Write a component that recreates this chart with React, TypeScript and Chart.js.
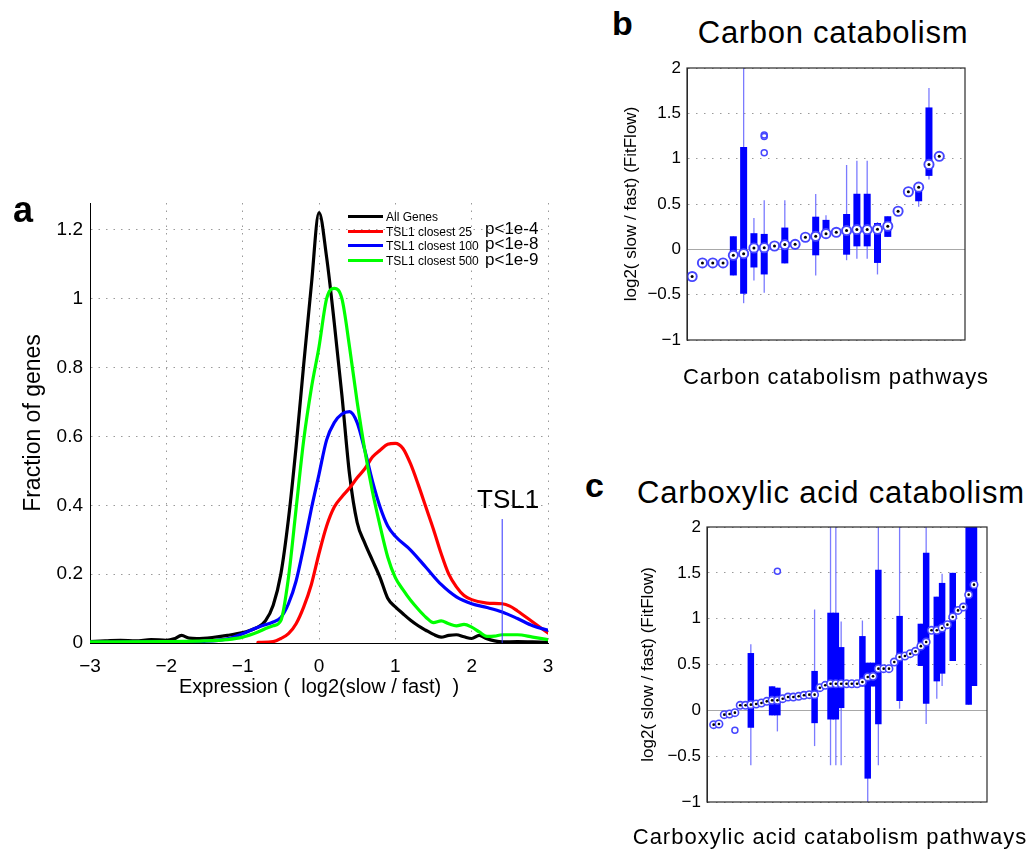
import React, { useEffect, useRef } from "react";
import { Chart, registerables } from "chart.js";

Chart.register(...registerables);

const FONT = '"Liberation Sans", Arial, Helvetica, sans-serif';

// ---------------- Panel a : distributions of expression ----------------
const allGenesX = [-3, -2.8, -2.6, -2.4, -2.2, -2.0, -1.9, -1.8, -1.7, -1.6, -1.4, -1.2, -1.0, -0.9, -0.8, -0.7, -0.6, -0.5, -0.4, -0.3, -0.2, -0.1, 0, 0.1, 0.2, 0.3, 0.4, 0.5, 0.6, 0.7, 0.8, 0.9, 1.0, 1.1, 1.2, 1.3, 1.4, 1.5, 1.6, 1.7, 1.8, 1.9, 2.0, 2.1, 2.2, 2.3, 2.4, 2.6, 2.8, 3.0];
const allGenesY = [0.004, 0.006, 0.008, 0.006, 0.01, 0.008, 0.012, 0.022, 0.014, 0.013, 0.016, 0.022, 0.03, 0.037, 0.046, 0.065, 0.11, 0.2, 0.36, 0.57, 0.81, 1.04, 1.25, 1.12, 0.93, 0.72, 0.49, 0.35, 0.29, 0.24, 0.19, 0.13, 0.105, 0.085, 0.066, 0.05, 0.037, 0.025, 0.017, 0.022, 0.024, 0.018, 0.013, 0.022, 0.012, 0.006, 0.003, 0.004, 0.003, 0.002];

const closest25X = [-0.8, -0.6, -0.5, -0.4, -0.3, -0.2, -0.1, 0, 0.1, 0.2, 0.3, 0.4, 0.5, 0.6, 0.7, 0.8, 0.9, 1.0, 1.1, 1.2, 1.3, 1.4, 1.5, 1.6, 1.7, 1.8, 1.9, 2.0, 2.2, 2.4, 2.5, 2.6, 2.8, 3.0];
const closest25Y = [0.002, 0.004, 0.013, 0.027, 0.056, 0.105, 0.17, 0.26, 0.34, 0.395, 0.425, 0.45, 0.48, 0.506, 0.54, 0.56, 0.577, 0.58, 0.565, 0.52, 0.46, 0.395, 0.33, 0.26, 0.2, 0.163, 0.138, 0.126, 0.116, 0.114, 0.107, 0.093, 0.061, 0.029];

const closest100X = [-3, -2, -1.5, -1.2, -1.0, -0.8, -0.6, -0.5, -0.4, -0.3, -0.2, -0.1, 0, 0.1, 0.2, 0.3, 0.4, 0.5, 0.6, 0.7, 0.8, 0.9, 1.0, 1.2, 1.4, 1.6, 1.8, 2.0, 2.2, 2.4, 2.6, 2.8, 3.0];
const closest100Y = [0.002, 0.003, 0.005, 0.012, 0.027, 0.046, 0.061, 0.074, 0.114, 0.18, 0.28, 0.39, 0.49, 0.59, 0.64, 0.665, 0.672, 0.64, 0.56, 0.47, 0.395, 0.34, 0.31, 0.27, 0.22, 0.17, 0.134, 0.114, 0.103, 0.09, 0.071, 0.05, 0.037];

const closest500X = [-3, -2, -1.5, -1.2, -1.0, -0.8, -0.7, -0.6, -0.5, -0.4, -0.3, -0.2, -0.1, 0, 0.1, 0.2, 0.3, 0.4, 0.5, 0.6, 0.7, 0.8, 0.9, 1.0, 1.1, 1.2, 1.3, 1.4, 1.5, 1.6, 1.7, 1.8, 1.9, 2.0, 2.1, 2.2, 2.3, 2.4, 2.6, 2.8, 3.0];
const closest500Y = [0.003, 0.004, 0.006, 0.01, 0.017, 0.032, 0.042, 0.05, 0.065, 0.19, 0.39, 0.59, 0.74, 0.86, 1.0, 1.03, 1.0, 0.86, 0.7, 0.56, 0.44, 0.34, 0.25, 0.19, 0.155, 0.124, 0.098, 0.075, 0.059, 0.064, 0.056, 0.05, 0.054, 0.046, 0.032, 0.019, 0.02, 0.024, 0.024, 0.017, 0.01];

const seriesLabels = ["All Genes", "TSL1 closest 25", "TSL1 closest 100", "TSL1 closest 500"];
const seriesColors = ["#000000", "#ff0000", "#0000ff", "#00ff00"];
const pValueLabels = ["", "p<1e-4", "p<1e-8", "p<1e-9"];
const tsl1Position = 2.4;
const tsl1MarkerHeight = 0.36;

// ---------------- Panel b : Carbon catabolism ----------------
const carbonMedians = [-0.30, -0.15, -0.15, -0.15, -0.066, -0.048, 0.015, 0.018, 0.037, 0.052, 0.055, 0.133, 0.144, 0.173, 0.188, 0.207, 0.218, 0.218, 0.221, 0.255, 0.42, 0.635, 0.686, 0.937, 1.026];
const carbonBoxItems = [5, 6, 7, 8, 10, 13, 14, 16, 17, 18, 19, 20, 23, 24];
const carbonQ1 = [-0.288, -0.49, -0.2, -0.277, -0.155, -0.066, 0.173, -0.059, 0.033, 0.033, -0.15, 0.137, 0.53, 0.81];
const carbonQ3 = [0.144, 1.13, 0.178, 0.17, 0.24, 0.36, 0.325, 0.39, 0.613, 0.613, 0.29, 0.365, 0.686, 1.565];
const carbonWhiskerLo = [-0.288, -0.594, -0.345, -0.48, -0.155, -0.288, 0.173, -0.12, -0.103, -0.103, -0.277, 0.137, 0.47, 0.77];
const carbonWhiskerHi = [0.144, 2.05, 0.345, 0.54, 0.54, 0.61, 0.376, 0.93, 0.978, 0.978, 0.30, 0.365, 0.686, 1.78];
const carbonOutlierItems = [8, 8, 8];
const carbonOutlierValues = [1.26, 1.245, 1.066];

// ---------------- Panel c : Carboxylic acid catabolism ----------------
const acidMedians = [-0.156, -0.149, -0.047, -0.04, -0.025, 0.055, 0.055, 0.062, 0.069, 0.08, 0.098, 0.109, 0.109, 0.127, 0.145, 0.145, 0.153, 0.164, 0.171, 0.171, 0.247, 0.273, 0.29, 0.29, 0.29, 0.29, 0.29, 0.29, 0.309, 0.364, 0.371, 0.455, 0.455, 0.455, 0.527, 0.582, 0.593, 0.618, 0.644, 0.70, 0.745, 0.873, 0.873, 0.898, 0.935, 1.018, 1.09, 1.127, 1.262, 1.371];
const acidBoxItems = [8, 12, 13, 20, 23, 24, 25, 29, 30, 31, 32, 36, 40, 41, 43, 44, 46, 49, 50];
const acidQ1 = [-0.19, -0.055, -0.055, -0.14, -0.1, -0.1, 0.025, 0.26, -0.745, 0.26, -0.153, 0.102, 0.484, 0.073, 0.316, 0.40, 0.538, 0.062, 0.265];
const acidQ3 = [0.625, 0.262, 0.247, 0.43, 1.065, 1.065, 0.69, 0.81, 0.52, 0.52, 1.535, 1.03, 0.945, 1.72, 1.24, 1.39, 1.5, 2.3, 2.3];
const acidWhiskerLo = [-0.6, -0.055, -0.23, -0.39, -0.6, -0.6, -0.6, 0.26, -1.05, 0.26, -0.6, 0.018, 0.484, -0.15, 0.127, 0.265, 0.538, 0.062, 0.265];
const acidWhiskerHi = [0.72, 0.262, 0.247, 1.1, 2.3, 2.3, 0.97, 0.98, 0.52, 0.52, 2.3, 2.3, 0.945, 2.3, 1.24, 1.49, 1.5, 2.3, 2.3];
const acidOutlierItems = [5, 13];
const acidOutlierValues = [-0.218, 1.516];

// ---------------- helpers ----------------
const xyPoints = (xs: number[], ys: number[]) => xs.map((x, i) => ({ x, y: ys[i] }));
const itemPoints = (vals: number[]) => vals.map((v, i) => ({ x: i + 1, y: v }));
const floatPoints = (items: number[], lo: number[], hi: number[]) =>
  items.map((k, i) => ({ x: k, y: [lo[i], hi[i]] }));

const fmt = (v: any) => {
  const r = Math.round(Number(v) * 100) / 100;
  return (r < 0 ? "\u2212" : "") + String(Math.abs(r));
};

const framePlugin = {
  id: "frame",
  afterDraw(chart: any) {
    const { ctx, chartArea } = chart;
    const { left, top, right, bottom } = chartArea;
    ctx.save();
    ctx.strokeStyle = "#2a2a2a";
    ctx.lineWidth = 1.2;
    ctx.strokeRect(left, top, right - left, bottom - top);
    ctx.restore();
  },
};

function buildPanelA() {
  const line = (label: string, color: string, xs: number[], ys: number[]) => ({
    label,
    data: xyPoints(xs, ys),
    showLine: true,
    borderColor: color,
    backgroundColor: color,
    borderWidth: 3.2,
    pointRadius: 0,
    cubicInterpolationMode: "monotone",
    borderCapStyle: "round",
    borderJoinStyle: "round",
  });
  return {
    type: "scatter",
    data: {
      datasets: [
        {
          label: "TSL1",
          data: [
            { x: tsl1Position, y: 0 },
            { x: tsl1Position, y: tsl1MarkerHeight },
          ],
          showLine: true,
          borderColor: "#3030ff",
          borderWidth: 1,
          pointRadius: 0,
        },
        line(seriesLabels[3], seriesColors[3], closest500X, closest500Y),
        line(seriesLabels[2], seriesColors[2], closest100X, closest100Y),
        line(seriesLabels[1], seriesColors[1], closest25X, closest25Y),
        line(seriesLabels[0], seriesColors[0], allGenesX, allGenesY),
      ],
    },
    options: {
      animation: false,
      responsive: false,
      events: [],
      layout: { padding: { left: 0, right: 22, top: 13, bottom: 0 } },
      plugins: { legend: { display: false }, tooltip: { enabled: false } },
      scales: {
        x: {
          type: "linear",
          min: -3,
          max: 3,
          ticks: {
            stepSize: 1,
            font: { family: FONT, size: 19 },
            color: "#000",
            padding: 12,
            maxRotation: 0,
            callback: fmt,
          },
          grid: { color: "#9a9a9a", drawTicks: false, lineWidth: 1 },
          border: { display: true, color: "#000", width: 1, dash: [1.5, 6] },
          title: {
            display: true,
            text: "Expression (  log2(slow / fast)  )",
            font: { family: FONT, size: 20 },
            color: "#000",
            padding: { top: 0, bottom: 11 },
          },
          afterFit(s: any) {
            s.height = 67;
            s.paddingLeft = 0;
            s.paddingRight = 0;
          },
        },
        y: {
          type: "linear",
          min: 0,
          max: 1.278,
          ticks: {
            stepSize: 0.2,
            includeBounds: false,
            font: { family: FONT, size: 19 },
            color: "#000",
            padding: 7,
            callback: fmt,
          },
          grid: { color: "#9a9a9a", drawTicks: false, lineWidth: 1 },
          border: { display: true, color: "#000", width: 1, dash: [1.5, 6] },
          title: {
            display: true,
            text: "Fraction of genes",
            font: { family: FONT, size: 23 },
            color: "#000",
            padding: { top: 20, bottom: 0 },
          },
          afterFit(s: any) {
            s.width = 90;
            s.paddingTop = 0;
            s.paddingBottom = 0;
          },
        },
      },
    },
  };
}

function buildBoxPanel(p: {
  medians: number[];
  boxItems: number[];
  q1: number[];
  q3: number[];
  wLo: number[];
  wHi: number[];
  outItems: number[];
  outVals: number[];
  xMin: number;
  xMax: number;
  ringR: number;
  ringW: number;
  dotR: number;
  outR: number;
  boxW: number;
  yAxisWidth: number;
  yTitlePad: number;
  padding: any;
}) {
  return {
    type: "bar",
    data: {
      datasets: [
        {
          type: "scatter",
          label: "median dot",
          data: itemPoints(p.medians),
          pointRadius: p.dotR,
          pointBackgroundColor: "#000",
          pointBorderWidth: 0,
          order: 0,
        },
        {
          type: "scatter",
          label: "median",
          data: itemPoints(p.medians),
          pointRadius: p.ringR,
          pointBackgroundColor: "#ffffff",
          pointBorderColor: "#4646ff",
          pointBorderWidth: p.ringW,
          order: 1,
        },
        {
          type: "scatter",
          label: "outliers",
          data: xyPoints(p.outItems, p.outVals),
          pointRadius: p.outR,
          pointBackgroundColor: "rgba(255,255,255,0)",
          pointBorderColor: "#4646ff",
          pointBorderWidth: 1.5,
          order: 2,
        },
        {
          type: "bar",
          label: "box",
          data: floatPoints(p.boxItems, p.q1, p.q3),
          backgroundColor: "#0000ff",
          borderWidth: 0,
          inflateAmount: 0,
          grouped: false,
          categoryPercentage: 1,
          barPercentage: 1.25,
          maxBarThickness: p.boxW,
          order: 3,
        },
        {
          type: "bar",
          label: "whisker",
          data: floatPoints(p.boxItems, p.wLo, p.wHi),
          backgroundColor: "rgba(100,100,255,0.85)",
          borderWidth: 0,
          inflateAmount: 0,
          grouped: false,
          categoryPercentage: 1,
          barPercentage: 1,
          maxBarThickness: 1.3,
          order: 4,
        },
      ],
    },
    plugins: [framePlugin],
    options: {
      animation: false,
      responsive: false,
      events: [],
      layout: { padding: p.padding },
      plugins: { legend: { display: false }, tooltip: { enabled: false } },
      scales: {
        x: { type: "linear", min: p.xMin, max: p.xMax, offset: false, display: false },
        y: {
          type: "linear",
          min: -1,
          max: 2,
          ticks: {
            stepSize: 0.5,
            font: { family: FONT, size: 17 },
            color: "#000",
            padding: 6,
            callback: fmt,
          },
          grid: {
            drawTicks: false,
            lineWidth: 1,
            color: (c: any) => (c.tick && c.tick.value === 0 ? "#a8a8a8" : "#9a9a9a"),
          },
          border: {
            display: true,
            color: "#2a2a2a",
            width: 1,
            dash: (c: any) => (c.tick && c.tick.value === 0 ? [] : [1.5, 6.5]),
          },
          title: {
            display: true,
            text: "log2( slow / fast) (FitFlow)",
            font: { family: FONT, size: 17 },
            color: "#000",
            padding: { top: p.yTitlePad, bottom: 0 },
          },
          afterFit(s: any) {
            s.width = p.yAxisWidth;
            s.paddingTop = 0;
            s.paddingBottom = 0;
          },
        },
      },
    },
  };
}

function buildPanelB() {
  return buildBoxPanel({
    medians: carbonMedians,
    boxItems: carbonBoxItems,
    q1: carbonQ1,
    q3: carbonQ3,
    wLo: carbonWhiskerLo,
    wHi: carbonWhiskerHi,
    outItems: carbonOutlierItems,
    outVals: carbonOutlierValues,
    xMin: 0.5,
    xMax: 27.5,
    ringR: 4.6,
    ringW: 1.9,
    dotR: 1.5,
    outR: 3,
    boxW: 7,
    yAxisWidth: 87,
    yTitlePad: 21,
    padding: { left: 0, right: 55, top: 18, bottom: 55 },
  });
}

function buildPanelC() {
  return buildBoxPanel({
    medians: acidMedians,
    boxItems: acidBoxItems,
    q1: acidQ1,
    q3: acidQ3,
    wLo: acidWhiskerLo,
    wHi: acidWhiskerHi,
    outItems: acidOutlierItems,
    outVals: acidOutlierValues,
    xMin: -0.25,
    xMax: 52.45,
    ringR: 3.7,
    ringW: 1.6,
    dotR: 1.3,
    outR: 3,
    boxW: 6.5,
    yAxisWidth: 107,
    yTitlePad: 38,
    padding: { left: 0, right: 33, top: 17, bottom: 50 },
  });
}

function ChartBox(props: { left: number; top: number; width: number; height: number; build: () => any }) {
  const ref = useRef<HTMLCanvasElement>(null);
  useEffect(() => {
    const chart = new Chart(ref.current as HTMLCanvasElement, props.build());
    return () => chart.destroy();
  }, []);
  return (
    <canvas
      ref={ref}
      width={props.width}
      height={props.height}
      style={{ position: "absolute", left: props.left, top: props.top, width: props.width, height: props.height }}
    />
  );
}

function Txt(props: {
  x: number;
  baseline: number;
  size: number;
  bold?: boolean;
  center?: boolean;
  spacing?: number;
  children: React.ReactNode;
}) {
  return (
    <div
      style={{
        position: "absolute",
        left: props.x,
        top: props.baseline - 0.8465 * props.size,
        fontFamily: FONT,
        fontSize: props.size,
        lineHeight: "1",
        fontWeight: props.bold ? 700 : 400,
        letterSpacing: props.spacing ? props.spacing : 0,
        whiteSpace: "pre",
        color: "#000",
        transform: props.center ? "translateX(-50%)" : undefined,
      }}
    >
      {props.children}
    </div>
  );
}

const legendRows = [216, 231, 245, 260];
const legendTextBaselines = [220.7, 235.7, 250, 265];
const pValueBaselines = [0, 234.3, 249.3, 265];

export default function App() {
  return (
    <div style={{ position: "absolute", left: 0, top: 0, width: 1032, height: 852, background: "#fff", overflow: "hidden" }}>
      <ChartBox left={0} top={190} width={570} height={520} build={buildPanelA} />
      <ChartBox left={600} top={50} width={420} height={345} build={buildPanelB} />
      <ChartBox left={600} top={510} width={420} height={342} build={buildPanelC} />

      <Txt x={13} baseline={222} size={36} bold>a</Txt>
      <Txt x={612} baseline={35} size={34} bold>b</Txt>
      <Txt x={585} baseline={497} size={34} bold>c</Txt>

      <Txt x={833} baseline={43} size={31} center spacing={0.7}>Carbon catabolism</Txt>
      <Txt x={836} baseline={385} size={22} center spacing={0.9}>Carbon catabolism pathways</Txt>
      <Txt x={831} baseline={503} size={31} center spacing={0.8}>Carboxylic acid catabolism</Txt>
      <Txt x={830} baseline={845} size={22} center spacing={1}>Carboxylic acid catabolism pathways</Txt>

      <Txt x={477} baseline={508} size={26}>TSL1</Txt>

      {seriesLabels.map((lab, i) => (
        <React.Fragment key={lab}>
          <div
            style={{
              position: "absolute",
              left: 348,
              top: legendRows[i] - 1.5,
              width: 35,
              height: 3,
              background: seriesColors[i],
            }}
          />
          <Txt x={386} baseline={legendTextBaselines[i]} size={12}>{lab}</Txt>
          {pValueLabels[i] ? (
            <Txt x={485} baseline={pValueBaselines[i]} size={17}>{pValueLabels[i]}</Txt>
          ) : null}
        </React.Fragment>
      ))}
    </div>
  );
}
